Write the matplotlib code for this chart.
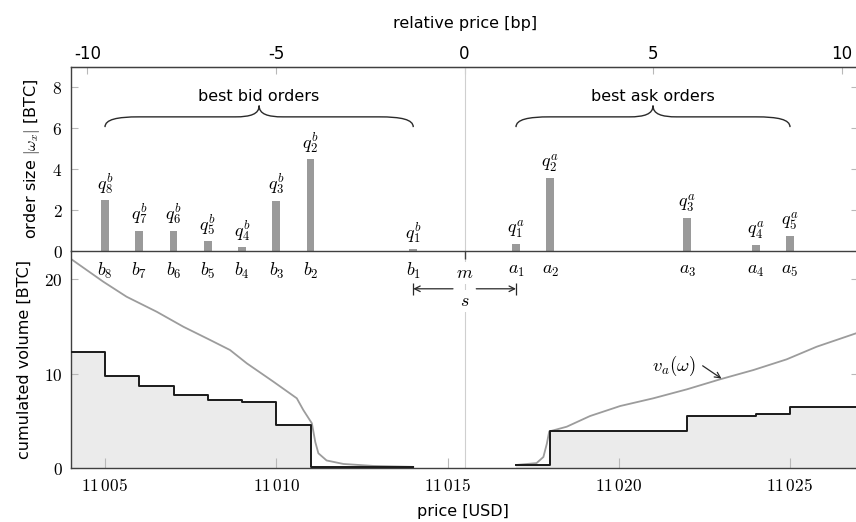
import numpy as np
import matplotlib
matplotlib.use("Agg")
import matplotlib.pyplot as plt
from matplotlib.path import Path
from matplotlib.patches import PathPatch

plt.rcParams['mathtext.fontset'] = 'cm'
plt.rcParams['font.family'] = ['DejaVu Sans']
plt.rcParams['axes.unicode_minus'] = False

# ---------------- data ----------------
mid_price = 11015.5
bid_prices = [11014, 11011, 11010, 11009, 11008, 11007, 11006, 11005]   # b1..b8
bid_sizes = [0.1, 4.5, 2.46, 0.2, 0.5, 1.0, 1.0, 2.5]                   # q1^b..q8^b
ask_prices = [11017, 11018, 11022, 11024, 11025]                        # a1..a5
ask_sizes = [0.35, 3.55, 1.6, 0.3, 0.72]                                 # q1^a..q5^a

bid_curve_price = [11003.99, 11004.95, 11005.63, 11006.51, 11007.29, 11008.07, 11008.65,
                   11009.14, 11009.92, 11010.60, 11010.79, 11011.04, 11011.14, 11011.23,
                   11011.47, 11011.96, 11012.84, 11014.0]
bid_curve_vol = [22.2, 19.75, 18.16, 16.57, 14.98, 13.58, 12.52, 11.11, 9.16, 7.41, 6.17,
                 4.76, 2.78, 1.59, 0.83, 0.46, 0.25, 0.15]
ask_curve_price = [11017.0, 11017.6, 11017.8, 11017.9, 11017.97, 11018.48, 11019.16,
                   11020.04, 11021.01, 11021.99, 11022.96, 11023.93, 11024.90, 11025.78,
                   11026.93]
ask_curve_vol = [0.35, 0.55, 1.2, 2.6, 3.9, 4.4, 5.53, 6.59, 7.41, 8.36, 9.42, 10.40,
                 11.53, 12.87, 14.29]

price_ticks = [11005, 11010, 11015, 11020, 11025]
bp_ticks = [-10, -5, 0, 5, 10]
size_ticks = [0, 2, 4, 6, 8]
vol_ticks = [0, 10, 20]
xlim = (11004, 11027)

# ---------------- figure ----------------
W, H = 856, 522
fig = plt.figure(figsize=(W / 100, H / 100), dpi=100)


def box(l, t, r, b):
    return [l / W, 1 - b / H, (r - l) / W, (b - t) / H]


ax_bot = fig.add_axes(box(70.75, 251, 858.5, 468.3))
ax_top = fig.add_axes(box(70.75, 66.7, 858.5, 251))
for a in (ax_bot, ax_top):
    a.patch.set_visible(False)
    a.set_xlim(*xlim)

spine_c = '#404040'
tick_c = '#b8b8b8'
bar_c = '#9a9a9a'
curve_c = '#9c9c9c'
fill_c = '#ebebeb'
FS = 11.5      # sans text
FM = 13        # math text
FT = 12.5      # numeric (serif) tick labels

# ---------- top axes (order sizes) ----------
ax_top.set_ylim(0, 9)
ax_top.bar(bid_prices, bid_sizes, width=0.22, color=bar_c, zorder=2)
ax_top.bar(ask_prices, ask_sizes, width=0.22, color=bar_c, zorder=2)
ax_top.axvline(mid_price, color='#cfcfcf', lw=0.8, zorder=1)

for i, (p, q) in enumerate(zip(bid_prices, bid_sizes)):
    ax_top.annotate(r'$q_{%d}^{b}$' % (i + 1), (p, q), xytext=(0, 3), textcoords='offset points',
                    ha='center', va='bottom', fontsize=FM)
for i, (p, q) in enumerate(zip(ask_prices, ask_sizes)):
    ax_top.annotate(r'$q_{%d}^{a}$' % (i + 1), (p, q), xytext=(0, 3), textcoords='offset points',
                    ha='center', va='bottom', fontsize=FM)

# bar position labels at the bottom
pos = list(bid_prices) + list(ask_prices)
labs = [r'$b_{%d}$' % (i + 1) for i in range(len(bid_prices))] + \
       [r'$a_{%d}$' % (i + 1) for i in range(len(ask_prices))]
ax_top.set_xticks(pos)
ax_top.set_xticklabels(labs, fontsize=FM)
ax_top.tick_params(axis='x', which='major', length=0, pad=7)
ax_top.set_xticks([mid_price], minor=True)
ax_top.tick_params(axis='x', which='minor', direction='out', length=6, width=1.0, color=spine_c,
                   labelbottom=False)
ax_top.annotate(r'$m$', (mid_price, 0), xytext=(0, -16), textcoords='offset points',
                ha='center', va='center', fontsize=FM,
                bbox=dict(boxstyle='square,pad=0.12', fc='white', ec='none'))

ax_top.set_yticks(size_ticks)
ax_top.set_yticklabels([r'$%d$' % v for v in size_ticks], fontsize=FT)
ax_top.tick_params(axis='y', direction='in', length=5, color=tick_c, left=True, right=True, pad=6)
ax_top.set_ylabel(r'order size $|\omega_x|$ [BTC]', fontsize=FS, va='center')
ax_top.yaxis.set_label_coords(-0.0495, 0.5)
for s in ('left', 'top', 'bottom'):
    ax_top.spines[s].set_color(spine_c)
    ax_top.spines[s].set_linewidth(1.0)
ax_top.spines['right'].set_visible(False)


def p2bp(p):
    return (np.asarray(p, dtype=float) - mid_price) / mid_price * 1e4


def bp2p(b):
    return mid_price * (1 + np.asarray(b, dtype=float) / 1e4)


sec = ax_top.secondary_xaxis('top', functions=(p2bp, bp2p))
sec.set_xticks(bp_ticks)
sec.set_xticklabels([str(v) for v in bp_ticks], fontsize=FS + 0.5)
sec.tick_params(axis='x', direction='in', length=5, color=tick_c, pad=3)
sec.spines['top'].set_color(spine_c)
ax_top.text(0.5, 1.237, 'relative price [bp]', transform=ax_top.transAxes,
            ha='center', va='center', fontsize=FS)


# braces
def brace(ax, x0, x1, y0, dx_end=1.0, dx_tip=0.7, h1=0.5, h2=0.55):
    xm = (x0 + x1) / 2
    y1 = y0 + h1
    y2 = y1 + h2
    verts = [
        (x0, y0), (x0, y0 + 0.75 * h1), (x0 + 0.35 * dx_end, y1), (x0 + dx_end, y1),
        (xm - dx_tip, y1),
        (xm - 0.35 * dx_tip, y1), (xm, y1 + 0.25 * h2), (xm, y2),
        (xm, y1 + 0.25 * h2), (xm + 0.35 * dx_tip, y1), (xm + dx_tip, y1),
        (x1 - dx_end, y1),
        (x1 - 0.35 * dx_end, y1), (x1, y0 + 0.75 * h1), (x1, y0),
    ]
    codes = [Path.MOVETO, Path.CURVE4, Path.CURVE4, Path.CURVE4,
             Path.LINETO,
             Path.CURVE4, Path.CURVE4, Path.CURVE4,
             Path.CURVE4, Path.CURVE4, Path.CURVE4,
             Path.LINETO,
             Path.CURVE4, Path.CURVE4, Path.CURVE4]
    ax.add_patch(PathPatch(Path(verts, codes), fc='none', ec='#2a2a2a', lw=1.0))
    return xm, y2


xm, yt = brace(ax_top, bid_prices[-1], bid_prices[0], 6.05)
ax_top.text(xm, 7.55, 'best bid orders', ha='center', va='center', fontsize=FS)
xm, yt = brace(ax_top, ask_prices[0], ask_prices[-1], 6.05)
ax_top.text(xm, 7.55, 'best ask orders', ha='center', va='center', fontsize=FS)

# ---------- bottom axes (cumulated volume) ----------
ax_bot.set_ylim(0, 23)
cum_b = np.cumsum(bid_sizes)
cum_a = np.cumsum(ask_sizes)
xb = [xlim[0]] + bid_prices[::-1]
yb = list(cum_b[::-1]) + [cum_b[0]]
xa = ask_prices + [xlim[1]]
ya = list(cum_a) + [cum_a[-1]]

ax_bot.axvline(mid_price, color='#cfcfcf', lw=0.8, zorder=0)
ax_bot.fill_between(xb, yb, step='post', color=fill_c, lw=0, zorder=1)
ax_bot.fill_between(xa, ya, step='post', color=fill_c, lw=0, zorder=1)
ax_bot.plot(bid_curve_price, bid_curve_vol, color=curve_c, lw=1.3, zorder=2)
ax_bot.plot(ask_curve_price, ask_curve_vol, color=curve_c, lw=1.3, zorder=2)
ax_bot.step(xb, yb, where='post', color='#1a1a1a', lw=1.4, zorder=3)
ax_bot.step(xa, ya, where='post', color='#1a1a1a', lw=1.4, zorder=3)

# spread arrow
ys = 19.0
gap = 0.34
ax_bot.annotate('', xy=(bid_prices[0], ys), xytext=(mid_price - gap, ys),
                arrowprops=dict(arrowstyle='->', color='#2a2a2a', lw=0.9, shrinkA=0, shrinkB=0))
ax_bot.annotate('', xy=(ask_prices[0], ys), xytext=(mid_price + gap, ys),
                arrowprops=dict(arrowstyle='->', color='#2a2a2a', lw=0.9, shrinkA=0, shrinkB=0))
ax_bot.plot([bid_prices[0], ask_prices[0]], [ys, ys], ls='none', marker='|', ms=8, mew=0.9,
            color='#2a2a2a')
ax_bot.text(mid_price, 17.7, r'$s$', ha='center', va='center', fontsize=FM, zorder=4,
            bbox=dict(boxstyle='square,pad=0.12', fc='white', ec='none'))

# v_a label
ax_bot.text(11021.6, 10.8, r'$v_a(\omega)$', ha='center', va='center', fontsize=FM + 0.5)
ax_bot.annotate('', xy=(11023.0, 9.5), xytext=(11022.45, 10.85),
                arrowprops=dict(arrowstyle='->', color='#2a2a2a', lw=0.9, shrinkA=0, shrinkB=0))

ax_bot.set_xticks(price_ticks)
ax_bot.set_xticklabels([r'$%d\,%03d$' % (v // 1000, v % 1000) for v in price_ticks], fontsize=FT)
ax_bot.tick_params(axis='x', direction='in', length=7, color=tick_c, pad=6)
ax_bot.set_yticks(vol_ticks)
ax_bot.set_yticklabels([r'$%d$' % v for v in vol_ticks], fontsize=FT)
ax_bot.tick_params(axis='y', direction='in', length=5, color=tick_c, left=True, right=True, pad=6)
ax_bot.set_xlabel('price [USD]', fontsize=FS, va='center')
ax_bot.xaxis.set_label_coords(0.498, -0.2)
ax_bot.set_ylabel('cumulated volume [BTC]', fontsize=FS, va='center')
ax_bot.yaxis.set_label_coords(-0.059, 0.5)
for s in ('left', 'bottom'):
    ax_bot.spines[s].set_color(spine_c)
    ax_bot.spines[s].set_linewidth(1.0)
ax_bot.spines['top'].set_visible(False)
ax_bot.spines['right'].set_visible(False)

fig.savefig('out.png', dpi=100)
